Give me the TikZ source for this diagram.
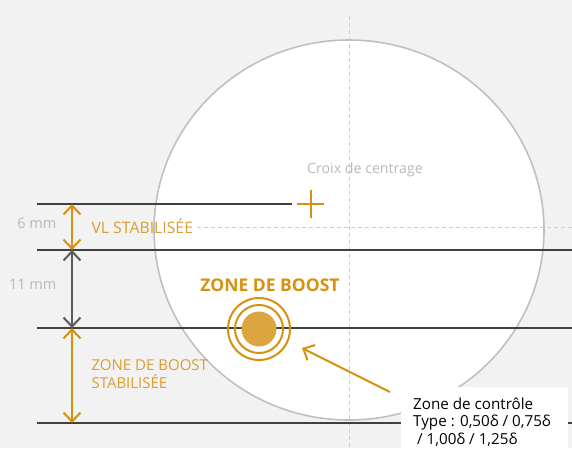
\documentclass[tikz,border=0pt]{standalone}
\usepackage{fontspec}
\setmainfont{Open Sans}
\usetikzlibrary{arrows.meta}
\definecolor{bggray}{RGB}{242,242,242}
\definecolor{circgray}{RGB}{192,192,192}
\definecolor{dashgray}{RGB}{205,205,205}
\definecolor{txtgray}{RGB}{185,185,185}
\definecolor{linedark}{RGB}{64,64,64}
\definecolor{arrowdark}{RGB}{90,90,90}
\definecolor{boostorange}{RGB}{214,146,14}
\definecolor{dotorange}{RGB}{219,166,64}
\definecolor{lblorange}{RGB}{218,158,52}

\begin{document}
\begin{tikzpicture}[x=1pt,y=-1pt]
		\tikzset{
			levelline/.style={linedark,line width=2.2pt},
			dashline/.style={dashgray,line width=1pt,dash pattern=on 4pt off 3pt},
			dimarrow/.style={line width=2pt,{Straight Barb[length=9pt,width=17pt]}-{Straight Barb[length=9pt,width=17pt]}},
			mmlabel/.style={txtgray,anchor=east,font=\fontsize{14.5}{16}\selectfont},
			zonelabel/.style={lblorange,anchor=west,align=left,font=\fontsize{15}{18}\selectfont},
			ring/.style={boostorange,line width=2pt}
		}
		% background and bounding box
		\fill [bggray] (0,0) rectangle (572,448);
		\useasboundingbox (0,0) rectangle (572,448);
		% wheel contact circle
		\fill [white,draw=circgray,line width=1.6pt] (349,230) ellipse [x radius=195,y radius=190];
		\draw [dashline] (349,16) -- (349,448);
		\draw [dashline] (197,227) -- (572,227);
		% level lines
		\coordinate (l1w) at (37,204);
		\coordinate (l1e) at (292,204);
		\coordinate (l2w) at (37,250);
		\coordinate (l2e) at (572,250);
		\coordinate (l3w) at (37,328);
		\coordinate (l3e) at (572,328);
		\coordinate (l4w) at (37,423);
		\coordinate (l4e) at (572,423);
		\draw [levelline] (l1w) -- (l1e);
		\draw [levelline] (l2w) -- (l2e);
		\draw [levelline] (l3w) -- (l3e);
		\draw [levelline] (l4w) -- (l4e);
		% dimension arrows
		\coordinate (d1) at (72,204);
		\coordinate (d2) at (72,250);
		\coordinate (d3) at (72,328);
		\coordinate (d4) at (72,423);
		\draw [dimarrow,boostorange] (d1) -- (d2);
		\draw [dimarrow,arrowdark] (d2) -- (d3);
		\draw [dimarrow,boostorange] (d3) -- (d4);
		\node [mmlabel] (six) at (60,223) {6 mm};
		\node [mmlabel] (eleven) at (60,284) {11 mm};
		\node [zonelabel,font=\fontsize{15.8}{18}\selectfont] (vlstab) at (88,226) {VL STABILISÉE};
		\node [zonelabel] (boostab) at (88,374) {ZONE DE BOOST\\STABILISÉE};
		% centering cross
		\coordinate (cross) at (311,204);
		\draw [boostorange,line width=2pt] ([xshift=-14pt]cross) -- ([xshift=13pt]cross);
		\draw [boostorange,line width=2pt] ([yshift=-14pt]cross) -- ([yshift=14pt]cross);
		\node [txtgray,font=\fontsize{14.2}{16}\selectfont] (croix) at (365,170) {Croix de centrage};
		% boost zone
		\node [circle,fill=dotorange,minimum size=35pt,inner sep=0pt] (boost) at (259,329) {};
		\draw [ring] (boost) circle (24);
		\draw [ring] (boost) circle (31);
		\node [boostorange,font=\bfseries\fontsize{17.5}{20}\selectfont] (boostlbl) at (270,285) {ZONE DE BOOST};
		% control zone
		\fill [white] (401,387) rectangle (568,448);
		\node [anchor=west,align=left,inner sep=0pt,
			font=\fontsize{15.2}{17.5}\selectfont] (ctrl) at (413,422)
			{Zone de contrôle\\Type : 0,50δ / 0,75δ\\\ / 1,00δ / 1,25δ};
		\coordinate (ptr) at (390,392);
		\coordinate (ptrtip) at (302,348);
		\draw [boostorange,line width=2pt,-{Straight Barb[length=9pt,width=17pt]}] (ptr) -- (ptrtip);
	\end{tikzpicture}
\end{document}
